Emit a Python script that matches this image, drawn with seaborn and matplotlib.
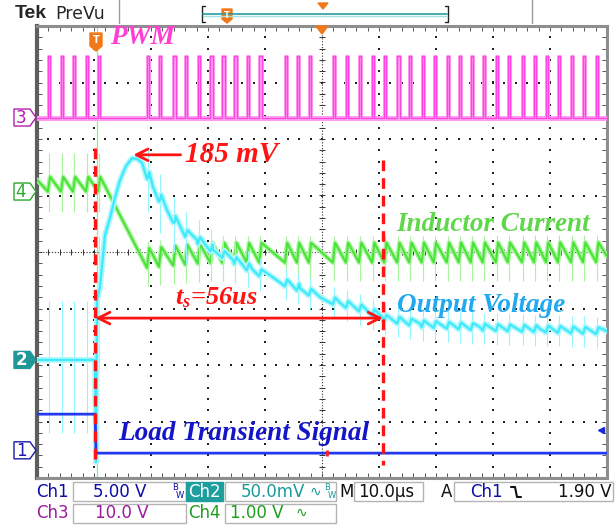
import numpy as np
import pandas as pd
import matplotlib
matplotlib.use("Agg")
import matplotlib.pyplot as plt
import seaborn as sns
from matplotlib.patches import Polygon, Rectangle
from matplotlib.lines import Line2D

# ---------------- data (time in us, level in divisions) ----------------
pwm_pulse_us = [1.9, 4.2, 6.3, 8.6, 10.7, 19.3, 21.4, 23.9, 26.0, 28.2, 30.4, 32.5,
                34.6, 36.8, 39.0, 43.5, 45.6, 47.7, 51.9, 54.2, 56.5, 58.8, 60.9,
                63.2, 65.3, 67.5, 69.6, 71.9, 74.0, 76.1, 78.2, 80.5, 82.6, 85.1,
                87.2, 89.3, 91.4, 93.7, 95.8, 98.1]
pulse_width_us = 0.4
pwm_base, pwm_top = 2.38, 3.47

# inductor current (Ch4): trough level before each pulse and ripple size
ch4_key_us = [0, 10.7, 19.3, 30, 100]
ch4_key_trough = [1.07, 1.07, -0.28, -0.19, -0.18]
ch4_key_ripple = [0.26, 0.26, 0.35, 0.35, 0.35]
ch4_spike_up = [0.55, 0.55, 0.3, 0.3, 0.3]
ch4_spike_dn = [0.5, 0.5, 0.5, 0.5, 0.5]

# output voltage (Ch2) envelope
ch2_env_us = [0, 10.18, 10.35, 10.53, 11.05, 11.93, 12.81, 13.68, 14.56, 15.61, 16.67,
              17.54, 18.42, 19.47, 20.35, 21.58, 22.81, 24.21, 25.61, 28.07, 30.88,
              34.39, 37.89, 42.11, 46.14, 49.65, 53.16, 57.89, 60.70, 67.19, 77.72,
              88.25, 100]
ch2_env_div = [-1.91, -1.91, -3.72, -0.85, -0.62, 0.30, 0.60, 0.96, 1.27, 1.52, 1.66,
               1.65, 1.58, 1.31, 1.15, 0.92, 0.74, 0.53, 0.35, 0.21, 0.04, -0.14,
               -0.32, -0.50, -0.64, -0.80, -0.90, -1.03, -1.17, -1.27, -1.33, -1.36,
               -1.40]
ch2_ripple = 0.06
ch2_spike_key_us = [0, 11, 19, 40, 100]
ch2_spike_up = [1.05, 1.05, 0.45, 0.25, 0.25]
ch2_spike_dn = [1.3, 1.3, 0.65, 0.3, 0.3]

# load transient signal (Ch1)
ch1_levels = [-2.87, -3.56]
ch1_step_us = 10.2

# annotations
settle_start_us, settle_end_us = 10.2, 60.7
overshoot_label = "185 mV"
settle_label = r"$t_s$=56us"

# ---------------- style ----------------
sns.set_theme(style="white")
plt.rcParams["mathtext.fontset"] = "custom"
plt.rcParams["mathtext.it"] = "Liberation Serif:italic:bold"
plt.rcParams["mathtext.rm"] = "Liberation Serif:bold"
plt.rcParams["font.family"] = ["DejaVu Sans"]

W, H = 615, 525
fig = plt.figure(figsize=(W / 100, H / 100), dpi=100)
fig.patch.set_facecolor("white")
L, R, T, B = 37, 607, 26, 478
ax = fig.add_axes([L / W, 1 - B / H, (R - L) / W, (B - T) / H])
ax.set_xlim(0, 100)
ax.set_ylim(-4, 4)
ax.set_facecolor("white")


def P(x, y):
    return (x / W, 1 - y / H)


def ypx(div):
    return 252 - 56.5 * div


# graticule
for k in range(1, 10):
    if k == 5:
        continue
    ys = np.arange(-4, 4.001, 0.2)
    ax.scatter(np.full_like(ys, 10 * k), ys, s=1.4, marker="s", color="#222", lw=0, zorder=1)
for k in range(-3, 4):
    if k == 0:
        continue
    xs = np.arange(0, 100.001, 2)
    ax.scatter(xs, np.full_like(xs, k), s=1.4, marker="s", color="#222", lw=0, zorder=1)
ax.axhline(0, color="#333", lw=0.8, ls=(0, (1, 1.6)), zorder=1)
ax.axvline(50, color="#333", lw=0.8, ls=(0, (1, 1.6)), zorder=1)
tx = np.arange(0, 100.001, 2)
ax.scatter(tx, np.zeros_like(tx), marker="|", s=20, color="#333", lw=0.7, zorder=1)
ty = np.arange(-4, 4.001, 0.2)
ax.scatter(np.full_like(ty, 50), ty, marker="_", s=20, color="#333", lw=0.7, zorder=1)

ax.set_xticks(np.arange(0, 101, 10))
ax.set_xticks(np.arange(0, 101, 2), minor=True)
ax.set_yticks(np.arange(-4, 5, 1))
ax.set_yticks(np.arange(-4, 4.01, 0.2), minor=True)
ax.tick_params(which="both", direction="in", length=3.5, width=0.7, color="#555",
               top=True, right=True, bottom=True, left=True,
               labelbottom=False, labelleft=False)
for s in ax.spines.values():
    s.set_color("#8e8e8e")
    s.set_linewidth(2.2)
ax.spines["left"].set_color("#5e5e5e")
ax.spines["left"].set_linewidth(3)

# trigger line
ax.axvline(10.5, color="#8fea8f", lw=0.9, zorder=2)

# ---------------- PWM (Ch3) ----------------
px, py = [0.0], [pwm_base]
for t in pwm_pulse_us:
    px += [t, t, t + pulse_width_us, t + pulse_width_us]
    py += [pwm_base, pwm_top, pwm_top, pwm_base]
px.append(100.0)
py.append(pwm_base)
pwm_df = pd.DataFrame({"t": px, "v": py})
for t in pwm_pulse_us:
    ax.add_patch(Rectangle((t, pwm_base), pulse_width_us, pwm_top - pwm_base,
                           color="#ffd0f6", lw=0, zorder=3))
ax.axhline(pwm_base, color="#ff9cee", lw=3.6, zorder=3)
sns.lineplot(data=pwm_df, x="t", y="v", ax=ax, sort=False, estimator=None,
             color="#ffa6f1", lw=2.2, zorder=3)
sns.lineplot(data=pwm_df, x="t", y="v", ax=ax, sort=False, estimator=None,
             color="#ff44e2", lw=1.0, zorder=3)

# ---------------- inductor current (Ch4) ----------------
pt = np.array(pwm_pulse_us)
trough = np.interp(pt, ch4_key_us, ch4_key_trough)
rip = np.interp(pt, ch4_key_us, ch4_key_ripple)
gx, gy = [0.0], [ch4_key_trough[0] + 0.8 * ch4_key_ripple[0]]
for t, lo, r in zip(pt, trough, rip):
    gx += [t, t + pulse_width_us]
    gy += [lo, lo + r]
gx.append(100.0)
gy.append(ch4_key_trough[-1] + 0.3 * ch4_key_ripple[-1])
ch4_df = pd.DataFrame({"t": gx, "v": gy})
sup = np.interp(pt, ch4_key_us, ch4_spike_up)
sdn = np.interp(pt, ch4_key_us, ch4_spike_dn)
ax.vlines(pt + 0.15, trough + rip * 0.5 - sdn, trough + rip * 0.5 + sup,
          color="#a8f49c", lw=0.8, zorder=4)
sns.lineplot(data=ch4_df, x="t", y="v", ax=ax, sort=False, estimator=None,
             color="#a6f59b", lw=3.4, zorder=4)
sns.lineplot(data=ch4_df, x="t", y="v", ax=ax, sort=False, estimator=None,
             color="#48e236", lw=1.4, zorder=4)

# ---------------- output voltage (Ch2) ----------------
env_at = np.interp(pt, ch2_env_us, ch2_env_div)
pts = list(zip(ch2_env_us, ch2_env_div))
for t, e in zip(pt, env_at):
    if t > 19:
        pts.append((t, e - ch2_ripple))
        pts.append((t + pulse_width_us, e + ch2_ripple))
pts.sort(key=lambda p: p[0])
ch2_df = pd.DataFrame(pts, columns=["t", "v"])
cup = np.interp(pt, ch2_spike_key_us, ch2_spike_up)
cdn = np.interp(pt, ch2_spike_key_us, ch2_spike_dn)
ax.vlines(pt + 0.15, env_at - cdn, env_at + cup, color="#92f5fd", lw=0.8, zorder=5)
sns.lineplot(data=ch2_df, x="t", y="v", ax=ax, sort=False, estimator=None,
             color="#b3f7fd", lw=4.2, zorder=5)
sns.lineplot(data=ch2_df, x="t", y="v", ax=ax, sort=False, estimator=None,
             color="#3febfb", lw=1.7, zorder=5)

# ---------------- load transient (Ch1) ----------------
ch1_df = pd.DataFrame({"t": [0, ch1_step_us, ch1_step_us + 0.15, 100],
                       "v": [ch1_levels[0], ch1_levels[0], ch1_levels[1], ch1_levels[1]]})
sns.lineplot(data=ch1_df, x="t", y="v", ax=ax, sort=False, estimator=None,
             color="#2438f0", lw=2.0, zorder=6)
ax.plot([50.9], [ch1_levels[1]], marker="|", ms=5, mew=2, color="#ff2020", zorder=7)
ax.plot([99.0], [-3.15], marker="<", ms=5, color="#1a2ad8", zorder=7, clip_on=False)

# ---------------- annotations ----------------
red = "#ff1414"
serif = dict(family="Liberation Serif", weight="bold", style="italic")
ax.plot([settle_start_us] * 2, [1.84, -3.77], color=red, lw=2.4, ls=(0, (3.2, 2.1)), zorder=8)
ax.plot([settle_end_us] * 2, [1.63, -3.77], color=red, lw=2.4, ls=(0, (3.2, 2.1)), zorder=8)
ax.annotate("", xy=(settle_start_us, -1.17), xytext=(settle_end_us, -1.17),
            arrowprops=dict(arrowstyle="<->,head_length=0.7,head_width=0.35",
                            color=red, lw=2.0, shrinkA=0, shrinkB=0), zorder=8)
ax.annotate("", xy=(16.9, 1.72), xytext=(25.2, 1.72),
            arrowprops=dict(arrowstyle="->,head_length=0.7,head_width=0.35",
                            color=red, lw=2.0, shrinkA=0, shrinkB=0), zorder=8)
ax.text(26.0, 1.72, overshoot_label, color=red, fontsize=21, ha="left", va="center", zorder=9, **serif)
ax.text(24.2, -0.80, settle_label, color=red, fontsize=19, ha="left", va="center", zorder=9, **serif)
ax.text(12.8, 3.80, "PWM", color="#ff3fd0", fontsize=19.5, ha="left", va="center", zorder=9, **serif)
ax.text(63.0, 0.48, "Inductor Current", color="#5ed84a", fontsize=19.5, ha="left", va="center", zorder=9, **serif)
ax.text(63.2, -0.94, "Output Voltage", color="#22aaf0", fontsize=19.5, ha="left", va="center", zorder=9, **serif)
ax.text(14.2, -3.22, "Load Transient Signal", color="#1515c8", fontsize=19.5, ha="left", va="center", zorder=9, **serif)

# ---------------- scope chrome (figure pixel coords) ----------------
ft = fig.transFigure


def poly(pts_px, **kw):
    fig.patches.append(Polygon([P(x, y) for x, y in pts_px], closed=True, transform=ft, **kw))


def line(pts_px, **kw):
    xs = [P(x, y)[0] for x, y in pts_px]
    ys = [P(x, y)[1] for x, y in pts_px]
    fig.lines.append(Line2D(xs, ys, transform=ft, **kw))


def rect(x0, y0, x1, y1, **kw):
    fig.patches.append(Rectangle(P(x0, y1), (x1 - x0) / W, (y1 - y0) / H, transform=ft, **kw))


orange = "#f07818"
# top bar
fig.text(*P(15, 14), "Tek", fontsize=14, fontweight="bold", family="Liberation Sans", va="center", ha="left")
fig.text(*P(55, 14), "PreVu", fontsize=12.5, family="DejaVu Sans", va="center", ha="left")
line([(119, 0), (119, 23)], color="#9a9a9a", lw=1)
line([(532, 0), (532, 23)], color="#9a9a9a", lw=1)
line([(205, 6), (202, 6), (202, 22), (205, 22)], color="#222", lw=1)
line([(445, 6), (448, 6), (448, 22), (445, 22)], color="#222", lw=1)
line([(203, 14), (447, 14)], color="#2a9d9d", lw=1.2)
line([(203, 16), (447, 16)], color="#a8e0e0", lw=1.0)
poly([(222, 9), (232, 9), (232, 19), (227, 23), (222, 19)], color=orange)
fig.text(*P(227, 15), "T", fontsize=6, color="white", ha="center", va="center", fontweight="bold")
poly([(318, 3), (328, 3), (323, 9)], color=orange)
# in-plot markers
poly([(90, 33), (102, 33), (102, 46), (96, 51), (90, 46)], color=orange, zorder=10)
fig.text(*P(96, 40), "T", fontsize=7, color="white", ha="center", va="center", fontweight="bold", zorder=11)
poly([(316, 26), (328, 26), (322, 34)], color=orange, zorder=10)

# channel ground markers
markers = [("3", pwm_base, "#b21fb2", False), ("4", ch4_key_trough[0], "#2aa82a", False),
           ("2", ch2_env_div[0], "#1f9797", True), ("1", -3.51, "#1a1aa8", False)]
for lab, lev, col, filled in markers:
    yc = ypx(lev)
    shape = [(14, yc - 8.5), (30, yc - 8.5), (36, yc), (30, yc + 8.5), (14, yc + 8.5)]
    if filled:
        poly(shape, facecolor=col, edgecolor=col, lw=1)
        fig.text(*P(21, yc + 0.5), lab, fontsize=12, color="white", ha="center", va="center", fontweight="bold")
    else:
        poly(shape, facecolor="white", edgecolor=col, lw=1)
        fig.text(*P(21, yc + 0.5), lab, fontsize=12, color=col, ha="center", va="center")

# bottom readout
blue_t, teal_t, purple_t, green_t = "#0c0ca8", "#1a9a9a", "#9c1a9c", "#1e9e1e"
box = dict(facecolor="white", edgecolor="#b4b4b4", lw=1)
rect(73, 482, 186, 501, **box)
rect(225, 482, 336, 501, **box)
rect(354, 482, 423, 501, **box)
rect(454, 482, 613, 501, **box)
rect(73, 504, 186, 523, **box)
rect(225, 504, 336, 523, **box)
rect(186, 482, 223, 501, facecolor="#1f9e9e", edgecolor="#1f9e9e", lw=1)
y1, y2 = 492, 513
fs = 12
fig.text(*P(36, y1), "Ch1", color=blue_t, fontsize=fs, va="center")
fig.text(*P(93, y1), "5.00 V", color=blue_t, fontsize=fs, va="center")
fig.text(*P(172, y1 - 4), "B", color=blue_t, fontsize=6, va="center")
fig.text(*P(176, y1 + 4), "W", color=blue_t, fontsize=6, va="center")
fig.text(*P(188, y1), "Ch2", color="white", fontsize=fs, va="center")
fig.text(*P(241, y1), "50.0mV", color=teal_t, fontsize=fs, va="center")
fig.text(*P(310, y1), "\u223f", color=teal_t, fontsize=10, va="center")
fig.text(*P(324, y1 - 4), "B", color=teal_t, fontsize=6, va="center")
fig.text(*P(328, y1 + 4), "W", color=teal_t, fontsize=6, va="center")
fig.text(*P(339, y1), "M", color="#111", fontsize=fs, va="center")
fig.text(*P(358, y1), "10.0\u00b5s", color="#111", fontsize=fs, va="center")
fig.text(*P(441, y1), "A", color="#111", fontsize=fs, va="center")
fig.text(*P(470, y1), "Ch1", color=blue_t, fontsize=fs, va="center")
line([(511, 487), (515, 487), (517, 497), (521, 497)], color="#111", lw=1.5)
fig.text(*P(611, y1), "1.90 V", color="#111", fontsize=fs, va="center", ha="right")
fig.text(*P(36, y2), "Ch3", color=purple_t, fontsize=fs, va="center")
fig.text(*P(95, y2), "10.0 V", color=purple_t, fontsize=fs, va="center")
fig.text(*P(188, y2), "Ch4", color=green_t, fontsize=fs, va="center")
fig.text(*P(230, y2), "1.00 V", color=green_t, fontsize=fs, va="center")
fig.text(*P(296, y2), "\u223f", color=green_t, fontsize=10, va="center")

ax.set_xlabel("")
ax.set_ylabel("")
fig.savefig("out.png", dpi=100, facecolor="white")
